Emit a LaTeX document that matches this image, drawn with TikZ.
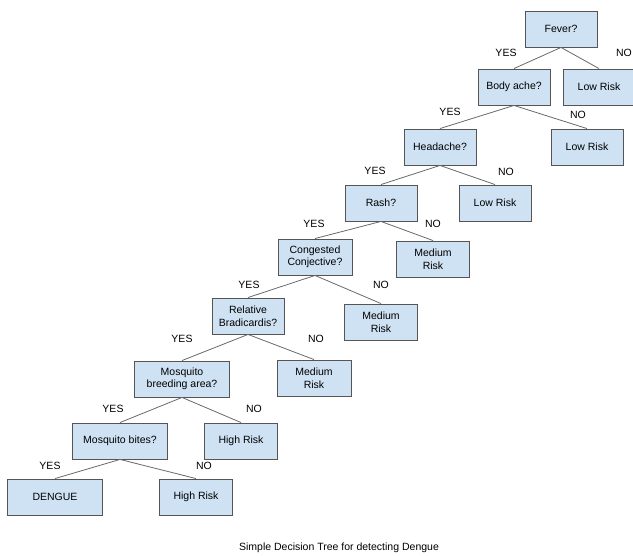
\documentclass[tikz,border=0pt]{standalone}
\usepackage{fontspec}
\setmainfont{Liberation Sans}
\definecolor{boxfill}{RGB}{207,226,243}
\definecolor{boxline}{RGB}{85,85,85}
\definecolor{edgeline}{RGB}{105,105,105}
\tikzset{
box/.style={draw=boxline, fill=boxfill, line width=0.9pt, minimum width=72pt, minimum height=36pt, align=center, inner sep=1pt, font=\fontsize{10.5}{12.5}\selectfont},
ans/.style={font=\fontsize{10.5}{12}\selectfont, inner sep=0pt},
link/.style={draw=edgeline, line width=0.8pt}
}

\begin{document}
\begin{tikzpicture}[x=1pt, y=-1pt]
\useasboundingbox (0,0) rectangle (633,556);
% questions
\node[box] (fever) at (561,29) {Fever?};
\node[box] (body) at (514,87) {Body ache?};
\node[box] (head) at (440,147) {Headache?};
\node[box] (rash) at (381,203) {Rash?};
\node[box, minimum width=74pt] (cong) at (315,257) {Congested\\Conjective?};
\node[box] (rel) at (248,316) {Relative\\Bradicardis?};
\node[box, minimum width=95pt] (breed) at (182,379) {Mosquito\\breeding area?};
\node[box, minimum width=95pt] (bites) at (120,441) {Mosquito bites?};
% outcomes
\node[box] (lowa) at (599,87) {Low Risk};
\node[box] (lowb) at (587,147) {Low Risk};
\node[box] (lowc) at (495,203) {Low Risk};
\node[box, minimum width=73pt] (medc) at (433,259) {Medium\\Risk};
\node[box, minimum width=73pt] (medb) at (381,322) {Medium\\Risk};
\node[box, minimum width=74pt] (meda) at (314,378) {Medium\\Risk};
\node[box, minimum width=73pt] (highb) at (241,441) {High Risk};
\node[box, minimum width=95pt] (dengue) at (55,497) {DENGUE};
\node[box, minimum width=73pt] (higha) at (196,497) {High Risk};

\foreach \p/\c in {fever/body, fever/lowa, body/head, body/lowb, head/rash, head/lowc,
  rash/cong, rash/medc, cong/rel, cong/medb, rel/breed, rel/meda,
  breed/bites, breed/highb, bites/dengue, bites/higha}{
\draw[link] (\p.south) -- (\c.north);
}

% yes / no labels
\foreach \n/\x/\y/\t in {yesa/506/53/YES, noa/624/53/NO, yesb/450/112/YES, nob/578/115/NO,
  yesc/375/171/YES, noc/506/172/NO, yesd/314/224/YES, nod/433/224/NO,
  yese/249/285/YES, noe/381/285/NO, yesf/182/339/YES, nof/316/339/NO,
  yesg/113/409/YES, nog/254/409/NO, yesh/50/466/YES, noh/204/466/NO}{
\node[ans] (\n) at (\x,\y) {\t};
}

\node[ans] (caption) at (339,548) {Simple Decision Tree for detecting Dengue};
\end{tikzpicture}
\end{document}
